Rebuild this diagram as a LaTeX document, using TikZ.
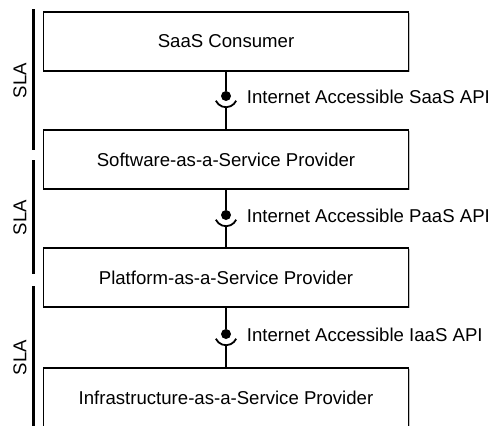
\documentclass[tikz,border=0pt]{standalone}
\usepackage{fontspec}
\setmainfont{Liberation Sans}
\usetikzlibrary{shadows}

\tikzset{
    tier/.style={draw, line width=0.8pt, fill=white, minimum width=182.5pt,
        minimum height=29.5pt, inner sep=0pt,
        drop shadow={shadow xshift=0.5pt, shadow yshift=-0.5pt, fill=black!60, opacity=0.4}},
    ball/.style={circle, fill=black, inner sep=0pt, minimum size=5pt},
    socket/.style={line width=0.9pt},
    link/.style={line width=0.65pt},
    api/.style={anchor=west, inner sep=0pt},
    slabar/.style={line width=1.5pt}
}

\begin{document}
\begin{tikzpicture}[x=0.5pt, y=-0.5pt, font=\fontsize{9.3}{11}\selectfont]
    \useasboundingbox (0,0) rectangle (494,425);

    % Tiers, top to bottom
    \node[tier] (consumer) at (226,41.5)  {SaaS Consumer};
    \node[tier] (saas)     at (226,159.5) {Software-as-a-Service Provider};
    \node[tier] (paas)     at (226,277.5) {Platform-as-a-Service Provider};
    \node[tier] (iaas)     at (226,397.5) {Infrastructure-as-a-Service Provider};

    % Ball-and-socket interfaces between the tiers
    \foreach \up/\down/\y/\api in {consumer/saas/96/SaaS, saas/paas/215/PaaS, paas/iaas/334/IaaS} {
        \node[ball] (\api-ball) at (226,\y) {};
        \draw[socket] ([shift={(205:5.6pt)}]\api-ball.center) arc[start angle=205, end angle=335, radius=5.6pt];
        \coordinate (\api-cup) at ([yshift=-5.6pt]\api-ball.center);
        \draw[link] (\up) -- (\api-ball);
        \draw[link] (\api-cup) -- (\down);
        \node[api] (\api-label) at (246.5,\y+1) {Internet Accessible \api\ API};
    }

    % SLA brackets on the left
    \foreach \top/\bot/\mid [count=\i] in {9/150/80.5, 160/274/217.5, 286/430/357.5} {
        \draw[slabar] (33.5,\top) -- (33.5,\bot);
        \node[rotate=90] (sla\i) at (20,\mid) {SLA};
    }
\end{tikzpicture}
\end{document}
